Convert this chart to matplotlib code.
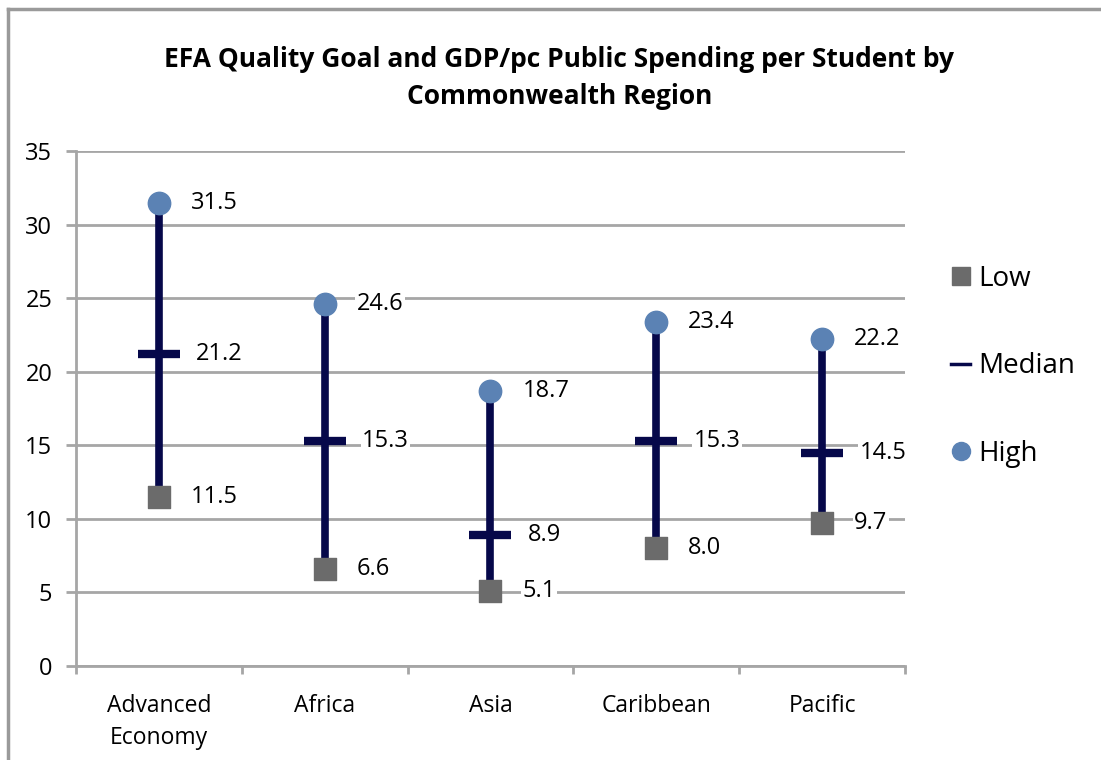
import matplotlib
matplotlib.use('Agg')
import matplotlib.pyplot as plt
from matplotlib.lines import Line2D

regions = ['Advanced\nEconomy', 'Africa', 'Asia', 'Caribbean', 'Pacific']
low = [11.5, 6.6, 5.1, 8.0, 9.7]
median = [21.2, 15.3, 8.9, 15.3, 14.5]
high = [31.5, 24.6, 18.7, 23.4, 22.2]

plt.rcParams['font.family'] = ['Open Sans', 'DejaVu Sans']

navy = '#06084a'
blue = '#5b82b4'
grey = '#6b6b6b'
gridc = '#a6a6a6'

fig = plt.figure(figsize=(11.01, 7.6), dpi=100)
ax = fig.add_axes([0.069, 0.1237, 0.753, 0.6776])

x = list(range(len(regions)))
ax.vlines(x, low, high, color=navy, lw=5.5, zorder=3)
ax.scatter(x, median, marker='_', s=900, linewidths=6, color=navy, zorder=4)
ax.scatter(x, low, marker='s', s=250, color=grey, zorder=5)
ax.scatter(x, high, marker='o', s=260, color=blue, zorder=5)

bbox = dict(facecolor='white', edgecolor='none', pad=1)
for i in x:
    ax.annotate('%.1f' % high[i], (i, high[i]), xytext=(23, 0), textcoords='offset points',
                va='center', ha='left', fontsize=17, bbox=bbox, zorder=6)
    ax.annotate('%.1f' % median[i], (i, median[i]), xytext=(27, 0), textcoords='offset points',
                va='center', ha='left', fontsize=17, bbox=bbox, zorder=6)
    ax.annotate('%.1f' % low[i], (i, low[i]), xytext=(23, 0), textcoords='offset points',
                va='center', ha='left', fontsize=17, bbox=bbox, zorder=6)

ax.set_xlim(-0.5, len(regions) - 0.5)
ax.set_ylim(0, 35)
ax.set_yticks(range(0, 36, 5))
ax.set_xticks(x)
ax.set_xticklabels(regions, fontsize=16.5, linespacing=1.45)
ax.set_xticks([i - 0.5 for i in range(len(regions) + 1)], minor=True)
ax.tick_params(axis='x', which='major', length=0, pad=20)
ax.tick_params(axis='x', which='minor', length=6, width=2, color=gridc)
ax.tick_params(axis='y', length=7, width=2, color=gridc, labelsize=17, pad=10)
ax.yaxis.grid(True, color=gridc, lw=2)
ax.set_axisbelow(True)
for s in ['top', 'right']:
    ax.spines[s].set_visible(False)
for s in ['left', 'bottom']:
    ax.spines[s].set_color(gridc)
    ax.spines[s].set_linewidth(2)

fig.suptitle('EFA Quality Goal and GDP/pc Public Spending per Student by\nCommonwealth Region',
             x=0.508, y=0.939, fontsize=19, fontweight='bold', linespacing=1.45)

handles = [Line2D([], [], marker='s', color=grey, ls='none', markersize=13),
           Line2D([], [], color=navy, lw=2.5),
           Line2D([], [], marker='o', color=blue, ls='none', markersize=13)]
fig.legend(handles, ['Low', 'Median', 'High'], loc='center left',
           bbox_to_anchor=(0.841, 0.518), frameon=False, fontsize=20,
           labelspacing=2.15, handlelength=0.7, handletextpad=0.3)

# chart border
fig.add_artist(Line2D([8 / 1101, 8 / 1101], [0, 1 - 9 / 760], color='#9a9a9a', lw=2.5,
                      transform=fig.transFigure))
fig.add_artist(Line2D([8 / 1101, 1], [1 - 9 / 760, 1 - 9 / 760], color='#9a9a9a', lw=2.5,
                      transform=fig.transFigure))

fig.savefig('out.png', dpi=100)
